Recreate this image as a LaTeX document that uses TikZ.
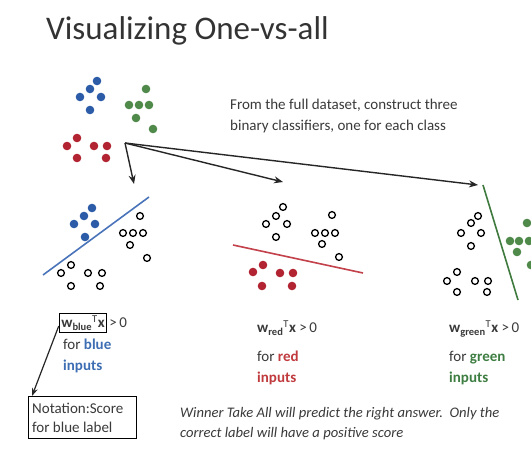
\documentclass[tikz,border=0pt]{standalone}
\usepackage{fontspec}
\setmainfont{Carlito}
\usetikzlibrary{arrows.meta}
\definecolor{tgray}{HTML}{3A3A3A}
\definecolor{dotblue}{HTML}{2C5CA8}
\definecolor{dotred}{HTML}{B22432}
\definecolor{dotgreen}{HTML}{4F8A4B}
\definecolor{lblue}{HTML}{4A74BA}
\definecolor{lred}{HTML}{C2414B}
\definecolor{lgreen}{HTML}{3F7A3F}
\definecolor{txblue}{HTML}{3D6DB3}
\definecolor{txred}{HTML}{C03A3E}
\definecolor{txgreen}{HTML}{3E7E42}
\tikzset{
  fdot/.style={fill=#1, draw=none},
  odot/.style={draw=black, line width=1.3pt, fill=white},
  arr/.style={-{Stealth[length=9pt,width=7pt]}, line width=1.4pt, draw=black!85},
  txt/.style={inner sep=0pt, anchor=base west, text=tgray, font=\fontsize{15}{18}\selectfont},
  sep/.style={line width=1.6pt},
}
\newcommand{\wlab}[1]{\textbf{w}\textsubscript{\textbf{#1}}\textsuperscript{T}\textbf{x}}
\begin{document}
\begin{tikzpicture}[x=1pt,y=-1pt]
\useasboundingbox (0,0) rectangle (531,449);
\fill[white] (0,0) rectangle (531,449);
% title
\node[txt, font=\fontsize{33}{40}\selectfont, text=black!80] (title) at (46,40) {Visualizing One-vs-all};
% full dataset
\foreach \p in {(97,81),(90,89),(80,97),(101,97),(90,110)} \fill[dotblue] \p circle (4.3);
\foreach \p in {(146,89),(129,105),(139,105),(149,105),(136,118),(153,129)} \fill[dotgreen] \p circle (4.3);
\foreach \p in {(77,138),(67,146),(94,146),(107,146),(77,158),(106,158)} \fill[dotred] \p circle (4.3);
\node[txt] (desc1) at (230,110) {From the full dataset, construct three};
\node[txt] (desc2) at (230,131) {binary classifiers, one for each class};
% arrows
\coordinate (src) at (125,143);
\coordinate (e1) at (134,184);
\coordinate (e2) at (283,182);
\coordinate (e3) at (478,185);
\draw[arr] (src) -- (e1);
\draw[arr] (src) -- (e2);
\draw[arr] (src) -- (e3);
% blue panel
\draw[sep, lblue] (43,275) -- (149,197);
\foreach \p in {(92,208),(84,216),(74,224),(95,224),(85,237)} \fill[dotblue] \p circle (4.3);
\foreach \p in {(140,216),(123,233),(133,233),(143,233),(130,245),(147,258),(71,265),(61,273),(88,273),(102,273),(71,286),(100,286)} \draw[odot] \p circle (3.4);
% red panel
\draw[sep, lred] (233,245) -- (363,273);
\foreach \p in {(283,207),(276,216),(266,224),(287,224),(276,237),(332,215),(315,233),(325,233),(335,233),(322,244),(339,257)} \draw[odot] \p circle (3.4);
\foreach \p in {(263,265),(253,272),(280,273),(293,273),(262,286),(292,286)} \fill[dotred] \p circle (4.3);
% green panel
\draw[sep, lgreen] (483,185) -- (518,300);
\foreach \p in {(478,216),(471,223),(461,233),(481,233),(471,246),(457,272),(447,281),(475,281),(488,281),(457,292),(487,292)} \draw[odot] \p circle (3.4);
\foreach \p in {(527,223),(510,241),(519,241),(529,241),(517,252),(531,265)} \fill[dotgreen] \p circle (4.3);
% blue label
\node[draw=black, line width=1.2pt, inner sep=2pt, text=tgray, font=\fontsize{15}{18}\selectfont] (wblue) at (83,323) {\wlab{blue}};
\node[txt, anchor=west] (gtblue) at ([xshift=2pt]wblue.east) {>\,0};
\node[txt] (forblue) at (63,350) {for \textcolor{txblue}{\textbf{blue}}};
\node[txt, text=txblue] (inblue) at (63,371) {\textbf{inputs}};
% notation box
\node[draw=black, line width=1.2pt, inner sep=0pt, minimum width=108pt, minimum height=42pt, anchor=north west] (note) at (28,396) {};
\node[txt] (note1) at (32,414) {Notation:Score};
\node[txt] (note2) at (32,433) {for blue label};
\draw[-{Stealth[length=8pt,width=6pt]}, line width=1.2pt, draw=black!85] ([yshift=-3pt]wblue.west) -- ([xshift=4pt]note.north west);
% red label
\node[txt] (wred) at (257,333) {\wlab{red}\ >\,0};
\node[txt] (forred) at (257,362) {for \textcolor{txred}{\textbf{red}}};
\node[txt, text=txred] (inred) at (257,383) {\textbf{inputs}};
% green label
\node[txt] (wgreen) at (449,333) {\wlab{green}\ >\,0};
\node[txt] (forgreen) at (449,362) {for \textcolor{txgreen}{\textbf{green}}};
\node[txt, text=txgreen] (ingreen) at (449,383) {\textbf{inputs}};
% conclusion
\node[txt, font=\fontsize{14.6}{18}\selectfont\itshape] (wta1) at (180,418) {Winner Take All will predict the right answer.\ \ Only the};
\node[txt, font=\fontsize{14.6}{18}\selectfont\itshape] (wta2) at (180,438) {correct label will have a positive score};
\end{tikzpicture}
\end{document}
